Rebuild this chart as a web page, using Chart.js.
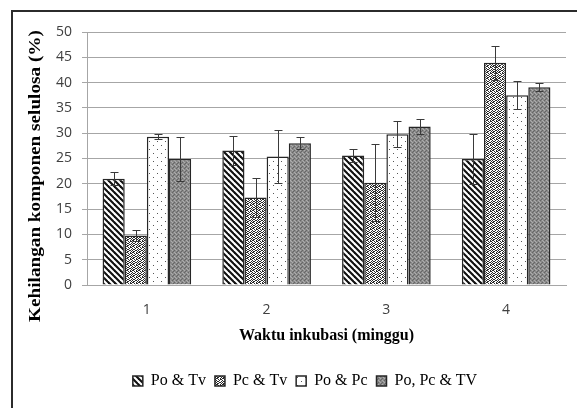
<!DOCTYPE html>
<html>
<head>
<meta charset="utf-8">
<script src="https://cdn.jsdelivr.net/npm/chart.js@4/dist/chart.umd.min.js"></script>
<style>
    html, body { margin: 0; padding: 0; background: #fff; overflow: hidden; }
    #chart { position: absolute; left: 0; top: 0; }
    #frame {
        position: absolute; left: 11px; top: 10px; width: 620px; height: 440px;
        border-left: 2px solid #2b2b2b; border-top: 2px solid #2b2b2b;
        pointer-events: none;
    }
</style>
</head>
<body>
<canvas id="chart" width="577" height="408"></canvas>
<div id="frame"></div>
<script>

    //---------------------------------------------------------------------------------------------
    // - DATA -------------------------------------------------------------------------------------
    //---------------------------------------------------------------------------------------------

    var categories = ["1", "2", "3", "4"];
    var seriesNames = ["Po & Tv", "Pc & Tv", "Po & Pc", "Po, Pc & TV"];

    var po_tv = [21.0, 26.6, 25.6, 24.9];
    var po_tv_err = [1.3, 2.9, 1.3, 5.0];

    var pc_tv = [9.8, 17.3, 20.2, 43.9];
    var pc_tv_err = [1.1, 3.8, 7.6, 3.4];

    var po_pc = [29.3, 25.4, 29.8, 37.5];
    var po_pc_err = [0.5, 5.3, 2.6, 2.8];

    var po_pc_tv = [24.9, 28.0, 31.3, 39.1];
    var po_pc_tv_err = [4.3, 1.2, 1.5, 0.8];

    var yTicks = [0, 5, 10, 15, 20, 25, 30, 35, 40, 45, 50];

    //---------------------------------------------------------------------------------------------
    // - PATTERNS ---------------------------------------------------------------------------------
    //---------------------------------------------------------------------------------------------

    var ctx = document.getElementById("chart").getContext("2d");

    function tile(size, paint) {
        var c = document.createElement("canvas");
        c.width = size;
        c.height = size;
        var t = c.getContext("2d");
        paint(t, size);
        return ctx.createPattern(c, "repeat");
    }

    function dots(t, color, list) {
        t.fillStyle = color;
        list.forEach(function (p) { t.fillRect(p[0], p[1], 1, 1); });
    }

    // black "\" stripes
    var stripes = tile(6, function (t, s) {
        t.fillStyle = "#fff";
        t.fillRect(0, 0, s, s);
        t.strokeStyle = "#111";
        t.lineWidth = 2.1;
        [-s, 0, s].forEach(function (c) {
            t.beginPath();
            t.moveTo(-1, c - 1);
            t.lineTo(s + 1, s + c + 1);
            t.stroke();
        });
    });

    // dense dark speckles on white
    var denseDots = tile(6, function (t, s) {
        t.fillStyle = "#fff";
        t.fillRect(0, 0, s, s);
        dots(t, "#2a2a2a", [
            [0, 0], [1, 0], [4, 0],
            [2, 1], [4, 1], [5, 1],
            [0, 2], [3, 2],
            [1, 3], [2, 3], [5, 3],
            [0, 4], [3, 4], [4, 4],
            [1, 5], [2, 5], [5, 5]
        ]);
    });

    // sparse small dots on white
    var sparseDots = tile(8, function (t, s) {
        t.fillStyle = "#fff";
        t.fillRect(0, 0, s, s);
        dots(t, "#555", [[1, 1], [5, 5]]);
    });

    // grey texture
    var greyCheck = tile(4, function (t, s) {
        t.fillStyle = "#8a8a8a";
        t.fillRect(0, 0, s, s);
        dots(t, "#666", [[0, 0], [2, 2], [1, 3]]);
        dots(t, "#adadad", [[2, 0], [0, 2], [3, 1]]);
    });

    //---------------------------------------------------------------------------------------------
    // - PLUGINS ----------------------------------------------------------------------------------
    //---------------------------------------------------------------------------------------------

    var errorBars = {
        id: "errorBars",
        afterDatasetsDraw: function (chart) {
            var c = chart.ctx;
            var y = chart.scales.y;
            c.save();
            c.strokeStyle = "#3a3a3a";
            c.lineWidth = 1;
            chart.data.datasets.forEach(function (ds, i) {
                var meta = chart.getDatasetMeta(i);
                meta.data.forEach(function (bar, j) {
                    var v = ds.data[j], e = ds.errors[j];
                    var x = Math.round(bar.x) + 0.5;
                    var top = Math.round(y.getPixelForValue(v + e)) + 0.5;
                    var bot = Math.round(y.getPixelForValue(v - e)) + 0.5;
                    c.beginPath();
                    c.moveTo(x, top);
                    c.lineTo(x, bot);
                    c.moveTo(x - 4, top);
                    c.lineTo(x + 4, top);
                    c.moveTo(x - 4, bot);
                    c.lineTo(x + 4, bot);
                    c.stroke();
                });
            });
            c.restore();
        }
    };

    var yTitle = {
        id: "yTitle",
        afterDraw: function (chart) {
            var c = chart.ctx;
            c.save();
            c.translate(36, 176);
            c.rotate(-Math.PI / 2);
            c.scale(1.2, 1);
            c.font = "bold 16px 'Liberation Serif'";
            c.fillStyle = "#000";
            c.textAlign = "center";
            c.textBaseline = "middle";
            c.fillText("Kehilangan komponen selulosa (%)", 0, 0);
            c.restore();
        }
    };

    //---------------------------------------------------------------------------------------------
    // - BAR CHART --------------------------------------------------------------------------------
    //---------------------------------------------------------------------------------------------

    function series(label, data, errs, fill) {
        return {
            label: label,
            data: data,
            errors: errs,
            backgroundColor: fill,
            borderColor: "#262626",
            borderWidth: 1.5,
            categoryPercentage: 0.74,
            barPercentage: 1.0
        };
    }

    var bar_chart_config = {
        type: "bar",
        data: {
            labels: categories,
            datasets: [
                series(seriesNames[0], po_tv, po_tv_err, stripes),
                series(seriesNames[1], pc_tv, pc_tv_err, denseDots),
                series(seriesNames[2], po_pc, po_pc_err, sparseDots),
                series(seriesNames[3], po_pc_tv, po_pc_tv_err, greyCheck)
            ]
        },
        options: {
            responsive: false,
            animation: false,
            devicePixelRatio: 1,
            layout: {
                padding: { left: 44, right: 11, top: 32, bottom: 9 }
            },
            plugins: {
                legend: {
                    position: "bottom",
                    labels: {
                        boxWidth: 10,
                        boxHeight: 10,
                        padding: 9,
                        color: "#000",
                        font: { family: "'Liberation Serif'", size: 16 }
                    }
                },
                tooltip: { enabled: false }
            },
            scales: {
                x: {
                    grid: { display: false, drawTicks: false },
                    border: { display: true, color: "#a6a6a6", width: 1 },
                    ticks: {
                        color: "#404040",
                        padding: 17,
                        font: { family: "'Open Sans'", size: 14 }
                    },
                    title: {
                        display: true,
                        text: "Waktu inkubasi (minggu)",
                        color: "#000",
                        font: { family: "'Liberation Serif'", size: 16, weight: "bold" },
                        padding: { top: 0, bottom: 19 }
                    },
                    afterFit: function (s) { s.height = 79; }
                },
                y: {
                    min: yTicks[0],
                    max: yTicks[yTicks.length - 1],
                    afterBuildTicks: function (s) {
                        s.ticks = yTicks.map(function (v) { return { value: v }; });
                    },
                    grid: { color: "#a6a6a6", lineWidth: 1, tickLength: 5 },
                    border: { display: true, color: "#a6a6a6", width: 1 },
                    ticks: {
                        color: "#404040",
                        padding: 10,
                        font: { family: "'Open Sans'", size: 14 }
                    },
                    afterFit: function (s) { s.width = 43; }
                }
            }
        },
        plugins: [errorBars, yTitle]
    };

    new Chart(ctx, bar_chart_config);

</script>
</body>
</html>
